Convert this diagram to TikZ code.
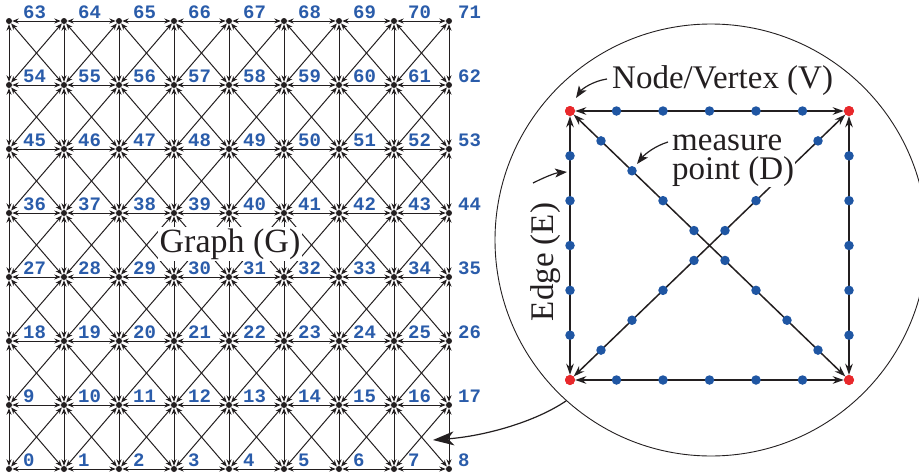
\documentclass[tikz,border=0pt]{standalone}
\usepackage{fontspec}
\setmainfont{Liberation Serif}
\newfontfamily\labfont{Liberation Mono}
\usetikzlibrary{arrows.meta,calc}
\definecolor{ink}{HTML}{231F20}
\definecolor{lblue}{HTML}{2A5CAA}
\definecolor{dblue}{HTML}{1F56A3}
\definecolor{vred}{HTML}{E8282B}
\begin{document}
\begin{tikzpicture}[x=1pt,y=-1pt,
  gnode/.style={circle,fill=ink,inner sep=0pt,minimum size=6pt},
  gedge/.style={draw=ink,line width=1pt,{Stealth[length=6.5pt,width=5pt]}-{Stealth[length=6.5pt,width=5pt]}},
  glabel/.style={font=\labfont\bfseries\fontsize{19}{19}\selectfont,text=lblue,inner sep=0pt,anchor=base west},
  vnode/.style={circle,fill=vred,inner sep=0pt,minimum size=10pt},
  mdot/.style={circle,fill=dblue,inner sep=0pt,minimum size=9.5pt},
  iedge/.style={draw=ink,line width=1.5pt,{Stealth[length=11pt,width=7.5pt]}-{Stealth[length=11pt,width=7.5pt]}},
  lab/.style={font=\fontsize{33}{33}\selectfont,text=ink,inner sep=0pt},
  larrow/.style={draw=ink,line width=1.2pt,-{Stealth[length=12pt,width=9pt,inset=3pt]}},
  bigarrow/.style={draw=ink,line width=1.2pt,-{Stealth[length=21pt,width=14pt,inset=6pt]}}]
\useasboundingbox (0,0) rectangle (919,474);
% ---------- grid nodes
\foreach \j in {0,...,7}{\foreach \i in {0,...,8}{
  \pgfmathtruncatemacro\n{9*\j+\i}
  \node[gnode] (g\n) at ({9+55*\i},{469-64*\j}) {};
}}
% ---------- grid edges
\foreach \j in {0,...,7}{\foreach \i in {0,...,7}{
  \pgfmathtruncatemacro\a{9*\j+\i}\pgfmathtruncatemacro\b{\a+1}
  \draw[gedge] (g\a) -- (g\b);
}}
\foreach \j in {0,...,6}{\foreach \i in {0,...,8}{
  \pgfmathtruncatemacro\a{9*\j+\i}\pgfmathtruncatemacro\b{\a+9}
  \draw[gedge] (g\a) -- (g\b);
}}
\foreach \j in {0,...,6}{\foreach \i in {0,...,7}{
  \pgfmathtruncatemacro\a{9*\j+\i}\pgfmathtruncatemacro\b{\a+10}
  \pgfmathtruncatemacro\c{\a+1}\pgfmathtruncatemacro\d{\a+9}
  \draw[gedge] (g\a) -- (g\b);
  \draw[gedge] (g\c) -- (g\d);
}}
% ---------- grid labels
\foreach \j in {0,...,7}{\foreach \i in {0,...,8}{
  \pgfmathtruncatemacro\n{9*\j+\i}
  \pgfmathtruncatemacro\off{\i==8 ? 9 : 14}
  \node[glabel] (l\n) at ({9+55*\i+\off},{469-64*\j-3}) {\n};
}}
\node[lab,fill=white,inner sep=1.5pt,font=\fontsize{34}{34}\selectfont] (graph) at (230,244) {Graph (G)};
% ---------- magnifier
\node[circle,draw=ink,line width=0.9pt,minimum size=432pt,inner sep=0pt] (lens) at (711,240) {};
\coordinate (bigtip) at (433,440);
\draw[bigarrow] (lens.228) .. controls (535,422) and (485,436) .. (bigtip);
% inset vertices
\node[vnode] (A) at (570,111) {};
\node[vnode] (B) at (849,111) {};
\node[vnode] (C) at (570,380) {};
\node[vnode] (D) at (849,380) {};
\draw[iedge] (A) -- (B);
\draw[iedge] (A) -- (C);
\draw[iedge] (B) -- (D);
\draw[iedge] (C) -- (D);
\draw[iedge] (A) -- (D);
\draw[iedge] (C) -- (B);
\node[vnode] at (A) {};
\node[vnode] at (B) {};
\node[vnode] at (C) {};
\node[vnode] at (D) {};
\foreach \k in {1,...,5}{
  \node[mdot] at ($(A.center)!\k/6!(B.center)$) {};
  \node[mdot] at ($(C.center)!\k/6!(D.center)$) {};
  \node[mdot] at ($(A.center)!\k/6!(C.center)$) {};
  \node[mdot] at ($(B.center)!\k/6!(D.center)$) {};
}
\foreach \k in {1,2,3,4,5,6,7,8}{
  \node[mdot] at ($(A.center)!\k/9!(D.center)$) {};
  \node[mdot] at ($(C.center)!\k/9!(B.center)$) {};
}
% labels in the inset
\node[lab,anchor=base west] (nv) at (612,88) {Node/Vertex (V)};
\node[lab,anchor=base west,fill=white,inner sep=1pt] (ms2) at (671,179) {point (D)};
\node[lab,anchor=base west,fill=white,inner sep=1pt] (ms1) at (671,150) {measure};
\node[lab,rotate=90,anchor=base] (ed) at (553,262) {Edge (E)};
\coordinate (nvs) at (607,79);
\coordinate (nvt) at (576,98);
\draw[larrow] (nvs) .. controls (593,81) and (582,89) .. (nvt);
\coordinate (mss) at (668,142);
\coordinate (mst) at (637,164);
\draw[larrow] (mss) .. controls (655,146) and (645,154) .. (mst);
\coordinate (eds) at (533,183);
\coordinate (edt) at (567,172);
\draw[larrow] (eds) .. controls (545,177) and (555,173) .. (edt);
\end{tikzpicture}
\end{document}
